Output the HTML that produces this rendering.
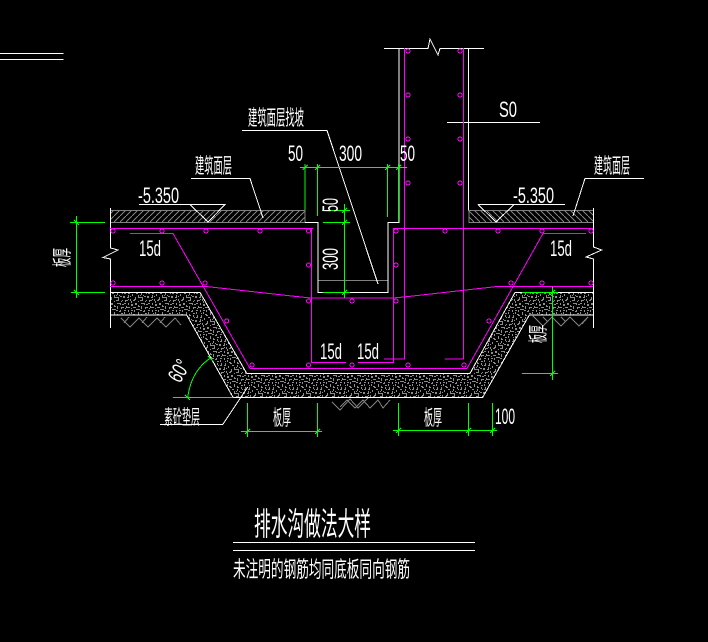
<!DOCTYPE html>
<html><head><meta charset="utf-8"><style>
html,body{margin:0;padding:0;background:#000;width:708px;height:642px;overflow:hidden}
svg{display:block}
text{fill:#fff;font-family:"Liberation Sans","Noto Sans CJK SC",sans-serif}
.c{font-family:"Noto Sans CJK SC","WenQuanYi Zen Hei",sans-serif}
.w{fill:none;stroke:#fff;stroke-width:1}
.m{fill:none;stroke:#f0f;stroke-width:1}
.g{fill:none;stroke:#0f0;stroke-width:1}
.y{fill:none;stroke:#808080;stroke-width:1}
.r{fill:none;stroke:#f0f;stroke-width:1}
</style></head><body>
<svg width="708" height="642" viewBox="0 0 708 642" xmlns="http://www.w3.org/2000/svg" shape-rendering="crispEdges">
<defs>
<pattern id="hl" width="6" height="6" patternUnits="userSpaceOnUse"><path d="M-1 7L7 -1" stroke="#808080" stroke-width="1"/></pattern>
<pattern id="hr" width="6" height="6" patternUnits="userSpaceOnUse"><path d="M-1 -1L7 7" stroke="#808080" stroke-width="1"/></pattern>
<g id="dots" fill="#8c8c8c">
<rect x="1" y="1" width="2" height="1"/><rect x="5" y="3" width="1" height="2"/><rect x="9" y="1" width="1" height="1"/><rect x="13" y="2" width="2" height="1"/><rect x="18" y="1" width="1" height="2"/><rect x="21" y="3" width="2" height="1"/>
<rect x="2" y="5" width="1" height="1"/><rect x="8" y="5" width="2" height="1"/><rect x="12" y="6" width="1" height="2"/><rect x="16" y="5" width="2" height="1"/><rect x="20" y="7" width="1" height="1"/>
<rect x="0" y="8" width="2" height="1"/><rect x="4" y="8" width="1" height="2"/><rect x="7" y="9" width="2" height="1"/><rect x="15" y="9" width="1" height="1"/><rect x="18" y="9" width="2" height="1"/><rect x="22" y="9" width="1" height="2"/>
<rect x="2" y="12" width="1" height="1"/><rect x="6" y="12" width="2" height="1"/><rect x="10" y="11" width="1" height="2"/><rect x="13" y="12" width="2" height="1"/><rect x="18" y="13" width="1" height="1"/><rect x="20" y="12" width="2" height="1"/>
<rect x="0" y="15" width="1" height="2"/><rect x="4" y="15" width="2" height="1"/><rect x="8" y="15" width="1" height="1"/><rect x="11" y="16" width="2" height="1"/><rect x="16" y="15" width="1" height="2"/><rect x="22" y="15" width="2" height="1"/>
<rect x="2" y="19" width="2" height="1"/><rect x="6" y="18" width="1" height="2"/><rect x="9" y="19" width="1" height="1"/><rect x="13" y="19" width="2" height="1"/><rect x="19" y="18" width="1" height="1"/><rect x="21" y="20" width="1" height="1"/>
<rect x="0" y="22" width="1" height="1"/><rect x="4" y="22" width="2" height="1"/><rect x="8" y="22" width="1" height="2"/><rect x="11" y="22" width="2" height="1"/><rect x="16" y="21" width="2" height="1"/><rect x="20" y="22" width="2" height="1"/>
</g>
<pattern id="gv" width="24" height="24" patternUnits="userSpaceOnUse"><use href="#dots"/></pattern>
<pattern id="gv2" width="24" height="24" patternUnits="userSpaceOnUse" patternTransform="translate(7 11) rotate(90)"><use href="#dots"/></pattern>
</defs>
<rect width="708" height="642" fill="#000"/>

<!-- gravel -->
<path d="M110.500 292.500H200L246.700 373.300H470L515 292.500H593V315H529.300L482.700 397.300H233L186.700 315H110.500Z" fill="url(#gv)"/>
<path d="M110.500 292.500H200L246.700 373.300H470L515 292.500H593V315H529.300L482.700 397.300H233L186.700 315H110.500Z" fill="url(#gv2)"/>
<!-- hatch -->
<rect x="110.500" y="210.500" width="194.500" height="12" fill="url(#hl)" stroke="#808080"/>
<rect x="469" y="210.500" width="124.500" height="12" fill="url(#hr)" stroke="#808080"/>
<!-- gray -->
<path class="y" d="M317.500 280.500H388"/>
<path class="y" d="M121 318l9 9l9-9l9 9l9-9l9 9l9-9l6 7M129 317l-5 6M147 317l-5 6M165 317l-5 6"/>
<path class="y" d="M533 316l10 10l9-9l9 9l9-9l9 9l9-9l-6 7M543 317l5 5M561 317l5 5"/>
<path class="y" d="M332 402l8 8l10-11l8 9l10-10M340 407l7-7l8 8l8-8l7 8l8-8l5 8l7-8"/>

<!-- white structure -->
<path class="w" d="M384 48.500H428L430 39L438 55L440 48.500H484"/>
<path class="w" d="M399 48V222.500H388V292.500H318V222.500H305"/>
<path class="w" d="M468.500 48V210.500"/>
<path class="w" d="M110.500 208V248L118 250L103 257.500L110.500 259V328"/>
<path class="w" d="M593.500 208V247L601.700 250L586 257L593.500 259V328"/>
<path class="w" d="M110.500 292.500H200L246.700 373.300H470L515 292.500H593"/>
<path class="w" d="M110.500 315H186.700L233 397.300H482.700L529.300 315H593"/>
<path class="w" d="M0 53.500H63.500M0 59.500H63.500"/>
<!-- leaders -->
<path class="w" d="M242 130.500H327L378 284"/>
<path class="w" d="M191 178.500H250L263 218"/>
<path class="w" d="M139 204.500H225L208 222L190 204.500"/>
<path class="w" d="M478 204.500H565M478 204.500L496 222L514 204.500"/>
<path class="w" d="M644 178.500H585L573 216"/>
<path class="w" d="M447 122.500H540"/>
<path class="w" d="M160 424.500H222.700L247.700 387"/>
<path class="w" d="M233 542.500H475M233 550.500H475"/>

<!-- magenta -->
<path class="m" d="M110 228.500H313M393 228.500H593"/>
<path class="m" d="M311.500 228V362.500H346M393.500 228V362.500H358"/>
<path class="m" d="M404.500 48V359H384M463.500 48V359H445"/>
<path class="m" d="M110 286.500H206L301 297L311 298H393L404 297L497 286.500H593"/>
<path class="m" d="M130 233.500H173L250 368.500H467L543 233.500H586"/>

<g class="r">
<circle cx="408" cy="51" r="2"/><circle cx="408" cy="95" r="2"/><circle cx="408" cy="139" r="2"/><circle cx="408" cy="183" r="2"/>
<circle cx="460" cy="51" r="2"/><circle cx="460" cy="95" r="2"/><circle cx="460" cy="139" r="2"/><circle cx="460" cy="183" r="2"/>
<circle cx="113" cy="231" r="2"/><circle cx="162" cy="231" r="2"/><circle cx="206" cy="231" r="2"/><circle cx="260" cy="231" r="2"/><circle cx="308.500" cy="231" r="2"/>
<circle cx="396" cy="231" r="2"/><circle cx="445" cy="231" r="2"/><circle cx="498" cy="231" r="2"/><circle cx="542" cy="231" r="2"/><circle cx="591" cy="231" r="2"/>
<circle cx="113" cy="283" r="2"/><circle cx="162" cy="283" r="2"/><circle cx="205" cy="283" r="2"/><circle cx="511" cy="283" r="2"/><circle cx="542" cy="283" r="2"/><circle cx="591" cy="283" r="2"/>
<circle cx="308.500" cy="265" r="2"/><circle cx="396" cy="265" r="2"/><circle cx="308.500" cy="301" r="2"/><circle cx="352" cy="301" r="2"/><circle cx="396" cy="301" r="2"/>
<circle cx="226.700" cy="321" r="2"/><circle cx="489" cy="321" r="2"/>
<circle cx="252" cy="365" r="2"/><circle cx="308.500" cy="365" r="2"/><circle cx="352" cy="365" r="2"/><circle cx="408" cy="365" r="2"/><circle cx="464" cy="365" r="2"/>
</g>

<!-- green dims -->
<path class="g" d="M70 222.500H105M71 292.500H105M76.500 216V298"/>
<path class="g" d="M300 167.500H407M305 164V210M317.500 164V216M387.500 164V217M398.500 164V222"/>
<path class="g" d="M344.500 204V298M322 210.500H350M323 222.500H350M323 292.500H350"/>
<path class="g" d="M241 431.500H322M247.500 403V437M317.500 403V437"/>
<path class="g" d="M393 430.500H497M398.500 403V436M468.500 403V436M492.500 403V436"/>
<path class="g" d="M552.500 287V380M522 292.500H558M522 373.500H558"/>
<path class="g" d="M173 397.500H233M187.700 397.500C190 380 197 367 210.500 358"/>
<path class="g" d="M302.500 170l5-5M315 170l5-5M385 170l5-5M396 170l5-5M342 213l5-5M342 225l5-5M342 295l5-5M245 434l5-5M315 434l5-5M396 433l5-5M466 433l5-5M490 433l5-5M550 295l5-5M550 376l5-5"/>
<path class="g" d="M74 220l5 5M74 290l5 5M185 395l5 5M208 356l5 5"/>

<!-- text -->
<text class="c" x="248" y="125" font-size="21" textLength="56" lengthAdjust="spacingAndGlyphs">建筑面层找坡</text>
<text class="c" x="195" y="173" font-size="21" textLength="37" lengthAdjust="spacingAndGlyphs">建筑面层</text>
<text class="c" x="594" y="173" font-size="21" textLength="36" lengthAdjust="spacingAndGlyphs">建筑面层</text>
<text class="c" x="164" y="424" font-size="20" textLength="36" lengthAdjust="spacingAndGlyphs">素砼垫层</text>
<text class="c" x="273" y="425" font-size="21" textLength="18" lengthAdjust="spacingAndGlyphs">板厚</text>
<text class="c" x="424" y="425" font-size="21" textLength="18" lengthAdjust="spacingAndGlyphs">板厚</text>
<text class="c" transform="translate(69,267) rotate(-90)" font-size="20" textLength="19" lengthAdjust="spacingAndGlyphs">板厚</text>
<text class="c" transform="translate(545,343) rotate(-90)" font-size="20" textLength="18" lengthAdjust="spacingAndGlyphs">板厚</text>
<text class="c" x="254" y="535" font-size="32" textLength="117" lengthAdjust="spacingAndGlyphs">排水沟做法大样</text>
<text class="c" x="233" y="577" font-size="22" textLength="177" lengthAdjust="spacingAndGlyphs">未注明的钢筋均同底板同向钢筋</text>

<g font-size="22">
<text x="138" y="203" textLength="41" lengthAdjust="spacingAndGlyphs">-5.350</text>
<text x="513" y="203" textLength="41" lengthAdjust="spacingAndGlyphs">-5.350</text>
<text x="288" y="161" textLength="15" lengthAdjust="spacingAndGlyphs">50</text>
<text x="339" y="161" textLength="23" lengthAdjust="spacingAndGlyphs">300</text>
<text x="400" y="161" textLength="15" lengthAdjust="spacingAndGlyphs">50</text>
<text x="499" y="117" textLength="18" lengthAdjust="spacingAndGlyphs">S0</text>
<text x="139" y="256" textLength="22" lengthAdjust="spacingAndGlyphs">15d</text>
<text x="550" y="256" textLength="22" lengthAdjust="spacingAndGlyphs">15d</text>
<text x="320" y="359" textLength="22" lengthAdjust="spacingAndGlyphs">15d</text>
<text x="357" y="359" textLength="22" lengthAdjust="spacingAndGlyphs">15d</text>
<text x="495" y="424" textLength="20" lengthAdjust="spacingAndGlyphs">100</text>
<text transform="translate(338,270) rotate(-90)" textLength="22" lengthAdjust="spacingAndGlyphs">300</text>
<text transform="translate(338,212) rotate(-90)" textLength="14" lengthAdjust="spacingAndGlyphs">50</text>
<text transform="translate(180,384) rotate(-60)" textLength="22" lengthAdjust="spacingAndGlyphs">60°</text>
</g>
</svg>
</body></html>
